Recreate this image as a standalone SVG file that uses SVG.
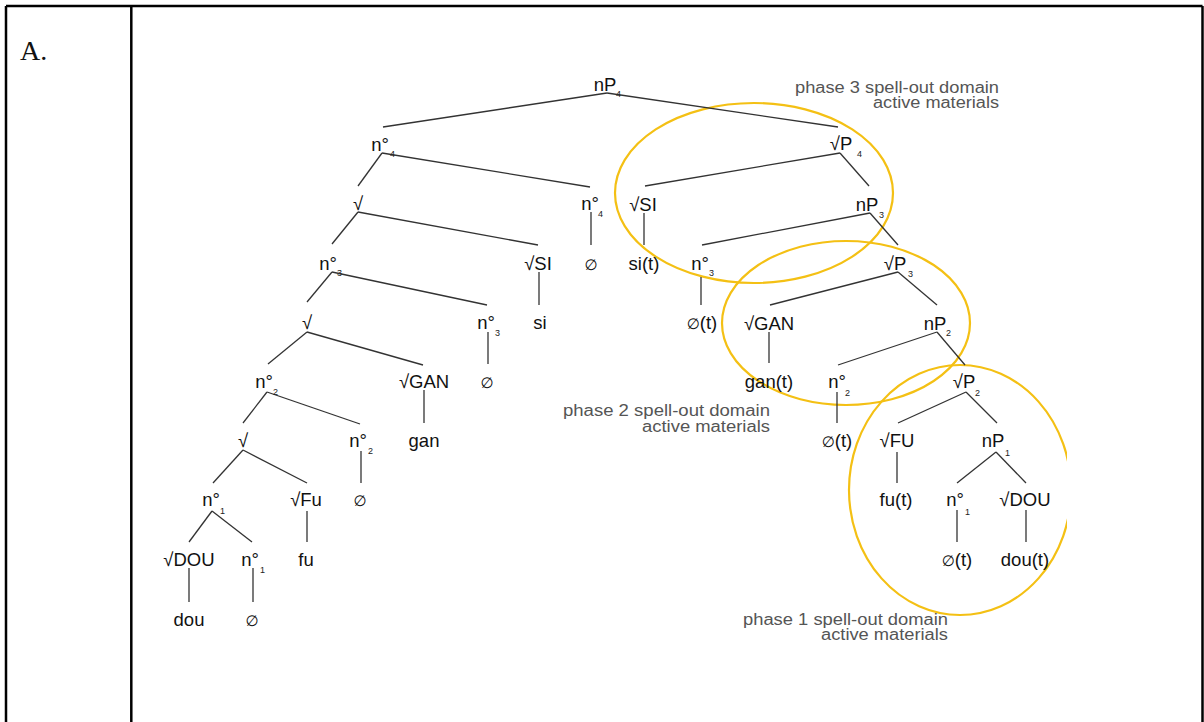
<svg xmlns="http://www.w3.org/2000/svg" width="1204" height="722" viewBox="0 0 1204 722">
<style>
.t{font-family:"Liberation Sans",Arial,"DejaVu Sans",sans-serif;font-size:18.5px;fill:#111;text-anchor:middle}
.t tspan{font-size:15px}
.s{font-family:"Liberation Sans",Arial,sans-serif;font-size:9px;fill:#222}
.g{font-family:"Liberation Sans",Arial,sans-serif;font-size:16px;fill:#555}
.e{font-family:"Liberation Sans","DejaVu Sans",sans-serif;font-size:15px;fill:#111;text-anchor:middle}
.ln line{stroke:#333;stroke-width:1.3}
.ring{fill:none;stroke:#F4C014;stroke-width:2.2}
.tb{stroke:#000;stroke-width:2.5;fill:none}
</style>
<defs><clipPath id="c1"><rect x="0" y="0" width="1067" height="722"/></clipPath></defs>
<rect width="1204" height="722" fill="#fff"/>
<g id="table">
<line class="tb" x1="6" y1="6" x2="1202.5" y2="6"/>
<line class="tb" x1="6" y1="6" x2="6" y2="722"/>
<line class="tb" x1="131.3" y1="6" x2="131.3" y2="722"/>
<line class="tb" x1="1202.5" y1="6" x2="1202.5" y2="722"/>
<text x="20" y="60" font-family="Liberation Serif,serif" font-size="28" fill="#111">A.</text>
</g>
<g id="rings">
<ellipse class="ring" cx="754" cy="193" rx="139" ry="90"/>
<ellipse class="ring" cx="846" cy="323" rx="124" ry="82"/>
<ellipse class="ring" cx="960" cy="490" rx="111" ry="125" clip-path="url(#c1)"/>
</g>
<g id="connectors" class="ln">
<line x1="607" y1="93" x2="383" y2="127"/>
<line x1="607" y1="93" x2="838" y2="127"/>
<line x1="382" y1="153" x2="590" y2="187"/>
<line x1="382" y1="153" x2="358" y2="186"/>
<line x1="358" y1="212" x2="538" y2="245"/>
<line x1="358" y1="212" x2="332" y2="244"/>
<line x1="591" y1="212" x2="591" y2="245"/>
<line x1="840" y1="153" x2="645" y2="186"/>
<line x1="840" y1="153" x2="869" y2="186"/>
<line x1="644" y1="213" x2="644" y2="245"/>
<line x1="870" y1="213" x2="702" y2="245"/>
<line x1="870" y1="213" x2="898" y2="245"/>
<line x1="332" y1="272" x2="487" y2="305"/>
<line x1="332" y1="272" x2="307" y2="302"/>
<line x1="539" y1="272" x2="539" y2="305"/>
<line x1="701" y1="277" x2="701" y2="305"/>
<line x1="898" y1="272" x2="770" y2="305"/>
<line x1="898" y1="272" x2="937" y2="305"/>
<line x1="307" y1="332" x2="423" y2="365"/>
<line x1="307" y1="332" x2="268" y2="364"/>
<line x1="488" y1="332" x2="488" y2="364"/>
<line x1="769" y1="332" x2="769" y2="363"/>
<line x1="937" y1="332" x2="838" y2="365"/>
<line x1="937" y1="332" x2="965" y2="365"/>
<line x1="267" y1="392" x2="360" y2="424"/>
<line x1="267" y1="392" x2="243" y2="423"/>
<line x1="424" y1="390" x2="424" y2="423"/>
<line x1="837" y1="392" x2="837" y2="423"/>
<line x1="966" y1="392" x2="898" y2="423"/>
<line x1="966" y1="392" x2="997" y2="423"/>
<line x1="243" y1="450" x2="213" y2="483"/>
<line x1="243" y1="450" x2="307" y2="483"/>
<line x1="361" y1="451" x2="361" y2="483"/>
<line x1="897" y1="452" x2="897" y2="483"/>
<line x1="996" y1="452" x2="957" y2="483"/>
<line x1="996" y1="452" x2="1026" y2="483"/>
<line x1="212" y1="511" x2="189" y2="542"/>
<line x1="212" y1="511" x2="252" y2="542"/>
<line x1="307" y1="511" x2="307" y2="542"/>
<line x1="957" y1="510" x2="957" y2="542"/>
<line x1="1026" y1="510" x2="1026" y2="542"/>
<line x1="189" y1="568" x2="189" y2="602"/>
<line x1="253" y1="568" x2="253" y2="602"/>
</g>
<g id="n-nP4"><text class="t" x="605" y="91">nP</text><text class="s" x="616" y="97">4</text></g>
<g id="n-no4a"><text class="t" x="380" y="151">n°</text><text class="s" x="390" y="157">4</text></g>
<g id="n-rP4"><text class="t" x="841" y="150">√P</text><text class="s" x="857" y="157">4</text></g>
<g id="n-r3a"><text class="t" x="358" y="210">√</text></g>
<g id="n-no4b"><text class="t" x="590" y="210">n°</text><text class="s" x="598" y="217">4</text></g>
<g id="n-rSIa"><text class="t" x="643" y="211">√SI</text></g>
<g id="n-nP3"><text class="t" x="867" y="211">nP</text><text class="s" x="879" y="218">3</text></g>
<g id="n-no3a"><text class="t" x="328" y="270">n°</text><text class="s" x="337" y="276">3</text></g>
<g id="n-rSIb"><text class="t" x="538" y="270">√SI</text></g>
<g id="n-z1"><text class="e" x="591" y="270">∅</text></g>
<g id="n-sit"><text class="t" x="644" y="270">si(t)</text></g>
<g id="n-no3b"><text class="t" x="700" y="270">n°</text><text class="s" x="709" y="276">3</text></g>
<g id="n-rP3"><text class="t" x="895" y="270">√P</text><text class="s" x="908" y="277">3</text></g>
<g id="n-r5"><text class="t" x="307" y="329">√</text></g>
<g id="n-no3c"><text class="t" x="486" y="329">n°</text><text class="s" x="495" y="336">3</text></g>
<g id="n-si"><text class="t" x="540" y="329">si</text></g>
<g id="n-zt1"><text class="t" x="702" y="329"><tspan>∅</tspan>(t)</text></g>
<g id="n-rGANa"><text class="t" x="769" y="330">√GAN</text></g>
<g id="n-nP2"><text class="t" x="935" y="330">nP</text><text class="s" x="946" y="336">2</text></g>
<g id="n-no2a"><text class="t" x="264" y="388">n°</text><text class="s" x="273" y="395">2</text></g>
<g id="n-rGANb"><text class="t" x="424" y="388">√GAN</text></g>
<g id="n-z2"><text class="e" x="487" y="388">∅</text></g>
<g id="n-gant"><text class="t" x="769" y="388">gan(t)</text></g>
<g id="n-no2b"><text class="t" x="837" y="388">n°</text><text class="s" x="845" y="396">2</text></g>
<g id="n-rP2"><text class="t" x="964" y="388">√P</text><text class="s" x="975" y="396">2</text></g>
<g id="n-r7"><text class="t" x="243" y="447">√</text></g>
<g id="n-no2c"><text class="t" x="358" y="447">n°</text><text class="s" x="368" y="454">2</text></g>
<g id="n-gan"><text class="t" x="424" y="447">gan</text></g>
<g id="n-zt2"><text class="t" x="837" y="447"><tspan>∅</tspan>(t)</text></g>
<g id="n-rFU"><text class="t" x="897" y="447">√FU</text></g>
<g id="n-nP1"><text class="t" x="993" y="447">nP</text><text class="s" x="1005" y="456">1</text></g>
<g id="n-no1a"><text class="t" x="211" y="506">n°</text><text class="s" x="220" y="514">1</text></g>
<g id="n-rFu"><text class="t" x="306" y="506">√Fu</text></g>
<g id="n-z3"><text class="e" x="360" y="506">∅</text></g>
<g id="n-fut"><text class="t" x="896" y="506">fu(t)</text></g>
<g id="n-no1b"><text class="t" x="955" y="506">n°</text><text class="s" x="965" y="515">1</text></g>
<g id="n-rDOUa"><text class="t" x="1025" y="506">√DOU</text></g>
<g id="n-rDOUb"><text class="t" x="189" y="566">√DOU</text></g>
<g id="n-no1c"><text class="t" x="250" y="566">n°</text><text class="s" x="260" y="573">1</text></g>
<g id="n-fu"><text class="t" x="306" y="566">fu</text></g>
<g id="n-zt3"><text class="t" x="957" y="566"><tspan>∅</tspan>(t)</text></g>
<g id="n-dout"><text class="t" x="1025" y="566">dou(t)</text></g>
<g id="n-dou"><text class="t" x="189" y="626">dou</text></g>
<g id="n-z4"><text class="e" x="252" y="626">∅</text></g>
<g id="labels">
<text class="g" x="795" y="93" textLength="204" lengthAdjust="spacingAndGlyphs">phase 3 spell-out domain</text>
<text class="g" x="873" y="108" textLength="126" lengthAdjust="spacingAndGlyphs">active materials</text>
<text class="g" x="563" y="416" textLength="207" lengthAdjust="spacingAndGlyphs">phase 2 spell-out domain</text>
<text class="g" x="642" y="432" textLength="128" lengthAdjust="spacingAndGlyphs">active materials</text>
<text class="g" x="743" y="625" textLength="205" lengthAdjust="spacingAndGlyphs">phase 1 spell-out domain</text>
<text class="g" x="821" y="640" textLength="127" lengthAdjust="spacingAndGlyphs">active materials</text>
</g>
</svg>
